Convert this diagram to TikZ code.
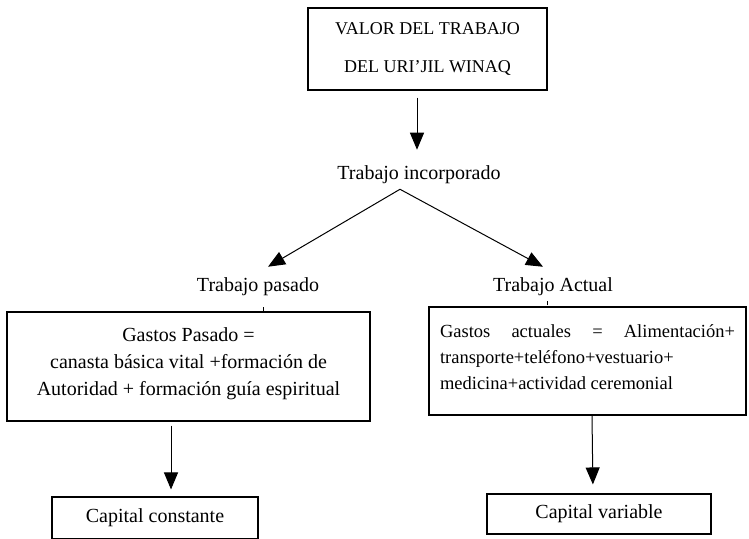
\documentclass[tikz,border=0pt]{standalone}
\usepackage{fontspec}
\setmainfont{Liberation Serif}
\usetikzlibrary{arrows.meta}
\tikzset{
  caja/.style={draw, line width=1.1pt, inner sep=0pt},
  etiq/.style={inner sep=0pt, font=\fontsize{20}{24}\selectfont},
  flecha/.style={line width=1pt, -{Triangle[width=14pt,length=17pt]}},
}
\begin{document}
\begin{tikzpicture}[x=1pt,y=-1pt]
\useasboundingbox (0,0) rectangle (749,538);

% cajas
\node[caja, minimum width=239pt, minimum height=82pt, align=center,
  font=\fontsize{18}{38}\selectfont] (valor) at (427.5,49)
  {VALOR DEL TRABAJO\\DEL URI’JIL WINAQ};
\node[caja, font=\fontsize{20}{27}\selectfont] (gastosP) at (188.5,366.5)
  {\parbox[c][109pt][t]{363pt}{\centering\vspace{16pt}Gastos Pasado =\\
   canasta básica vital +formación de\\
   Autoridad + formación guía espiritual}};
\node[caja, inner xsep=11pt, font=\fontsize{18.5}{26}\selectfont] (gastosA) at (587.5,361)
  {\parbox[c][108pt][t]{295pt}{\vspace{18pt}Gastos\hfill actuales\hfill =\hfill Alimentación+\\
   transporte+teléfono+vestuario+\\
   medicina+actividad ceremonial}};
\node[caja, minimum width=206pt, minimum height=42pt, font=\fontsize{20}{24}\selectfont]
  (capConst) at (155,518) {Capital constante};
\node[caja, minimum width=224pt, minimum height=40pt, font=\fontsize{20}{24}\selectfont]
  (capVar) at (599,514) {Capital variable};

% etiquetas
\node[etiq] (incorp) at (419,175) {Trabajo incorporado};
\node[etiq] (pasado) at (258,287) {Trabajo pasado};
\node[etiq] (actual) at (553,287) {Trabajo Actual};

% flechas
\draw[flecha, shorten <=7pt, shorten >=16pt] ([xshift=-10.5pt]valor.south) -- ([xshift=-2pt]incorp.north);
\draw[flecha] ([xshift=-19pt,yshift=-5pt]incorp.south) -- ([xshift=10pt,yshift=11pt]pasado.north);
\draw[flecha] ([xshift=-19pt,yshift=-5pt]incorp.south) -- ([xshift=-10pt,yshift=11pt]actual.north);
\draw[flecha, shorten <=4pt, shorten >=7pt] ([xshift=-17.5pt]gastosP.south) -- ([xshift=16pt]capConst.north);
\draw[flecha, shorten >=9pt] ([xshift=4.5pt]gastosA.south) -- ([xshift=-6pt]capVar.north);

% marcas sueltas
\draw[line width=0.6pt] ([xshift=74.5pt]gastosP.north) -- ++(0,-4);
\draw[line width=0.6pt] ([xshift=-40.5pt,yshift=1pt]gastosA.north) -- ++(0,-4);
\end{tikzpicture}
\end{document}
